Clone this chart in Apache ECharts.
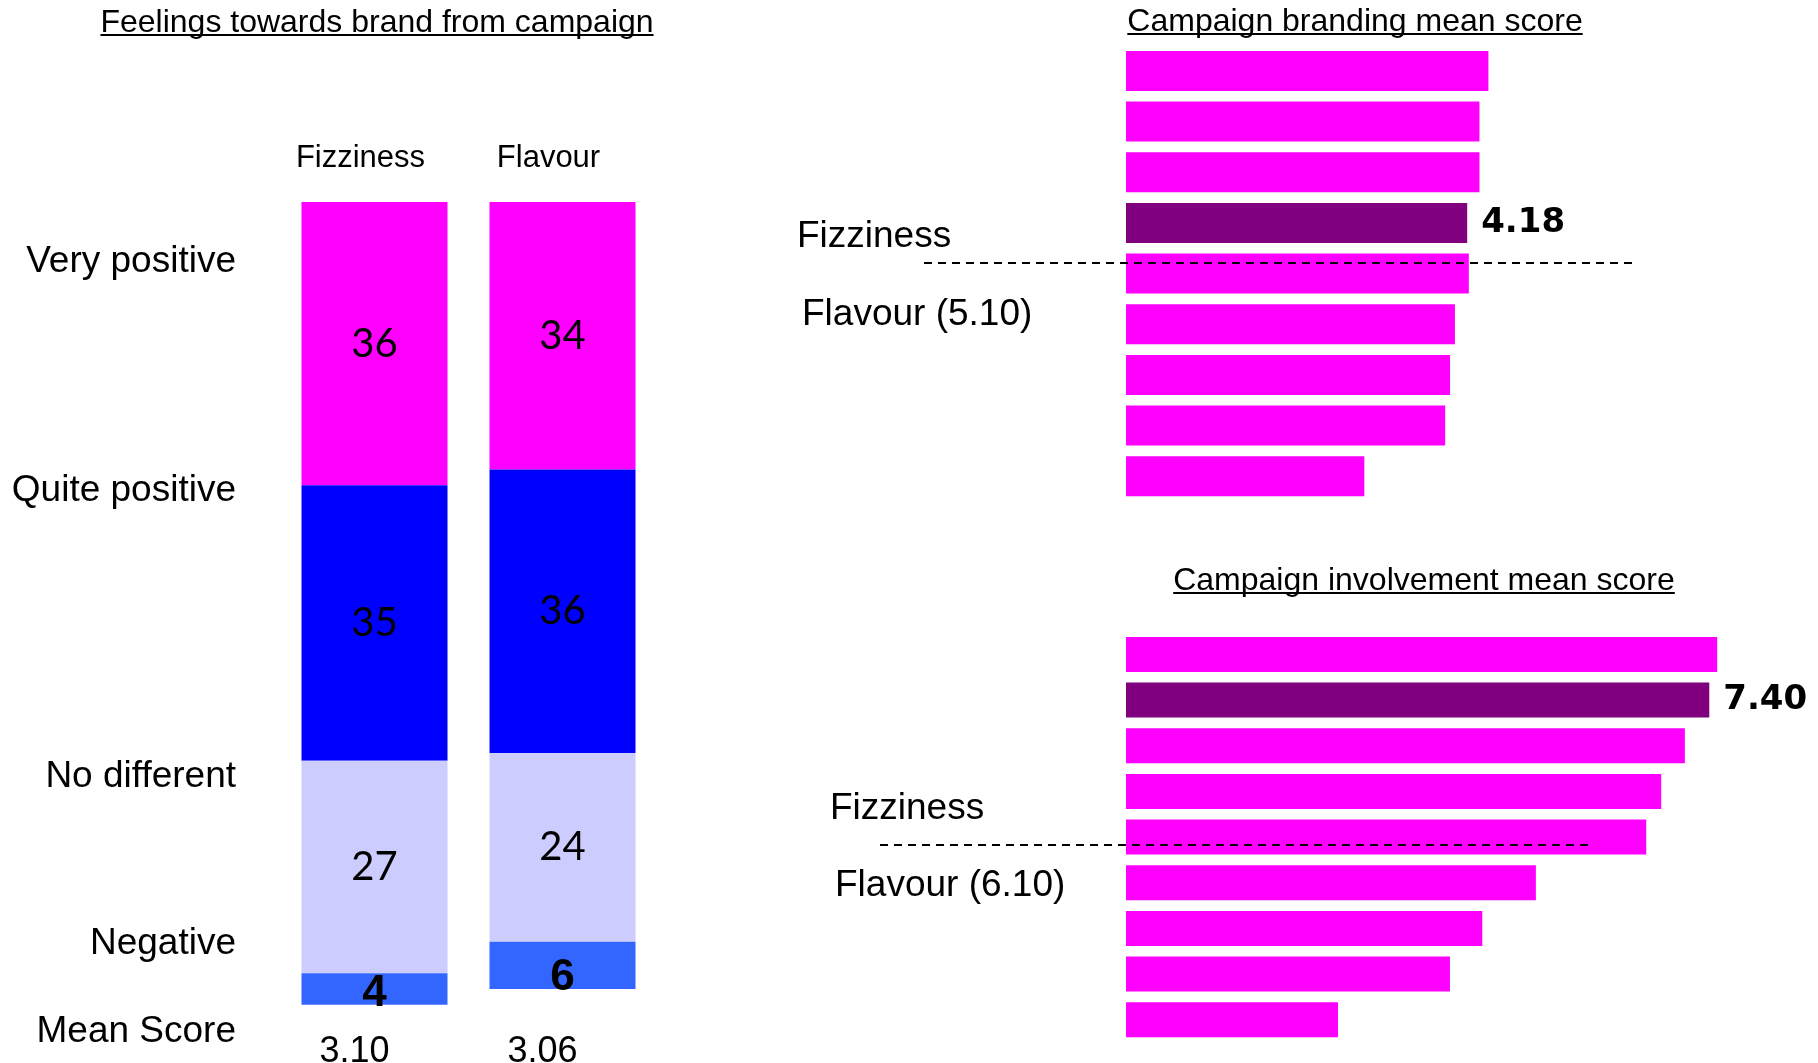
<!DOCTYPE html>
<html>
<head>
<meta charset="utf-8">
<title>Campaign scores</title>
<script src="https://cdn.jsdelivr.net/npm/echarts@6/dist/echarts.min.js"></script>
<style>
html, body { margin: 0; padding: 0; background: #fff; }
#main { width: 1818px; height: 1063px; }
</style>
</head>
<body>
<div id="main"></div>
<script>
// feelings towards brand from campaign (%)
const groups = ['Fizziness', 'Flavour']
const veryPositive = [36, 34]
const quitePositive = [35, 36]
const noDifferent = [27, 24]
const negative = [4, 6]
const meanScores = ['3.10', '3.06']
const feelingRows = ['Very positive', 'Quite positive', 'No different', 'Negative', 'Mean Score']

// campaign branding mean score (Fizziness highlighted)
const brandingScores = [4.44, 4.33, 4.33, 4.18, 4.20, 4.03, 3.97, 3.91, 2.92]
const brandingFizzIndex = 3
const brandingFlavour = '5.10'

// campaign involvement mean score
const involvementScores = [7.50, 7.40, 7.09, 6.79, 6.60, 5.20, 4.52, 4.11, 2.69]
const involvementFizzIndex = 1
const involvementFlavour = '6.10'

const ARIAL = '"Liberation Sans", Arial, sans-serif'
const VERDANA = '"DejaVu Sans", Verdana, sans-serif'
const GOTHIC = 'Lato, "Open Sans", sans-serif'

const MAGENTA = '#FF00FF'
const PURPLE = '#800080'

// width of a string, used for the underlines of the titles
function textWidth (str, size) {
  let ctx = document.createElement('canvas').getContext('2d')
  ctx.font = size + 'px ' + ARIAL
  return ctx.measureText(str).width
}

function label (str, x, y, size, align) {
  return {
    type: 'text',
    x: x,
    y: y,
    z: 100,
    style: {
      text: str,
      font: size + 'px ' + ARIAL,
      fill: '#000',
      align: align || 'left',
      verticalAlign: 'middle'
    }
  }
}

function title (str, cx, cy, lineY) {
  let w = textWidth(str, 32)
  return [
    label(str, cx, cy, 32, 'center'),
    {
      type: 'line',
      z: 100,
      shape: { x1: cx - w / 2, y1: lineY, x2: cx + w / 2, y2: lineY },
      style: { stroke: '#000', lineWidth: 2 }
    }
  ]
}

function dashed (x1, x2, y) {
  return {
    type: 'line',
    z: 100,
    shape: { x1: x1, y1: y, x2: x2, y2: y },
    style: { stroke: '#000', lineWidth: 2, lineDash: [8, 6] }
  }
}

// horizontal score bars, grid 1 = branding, grid 2 = involvement
function scoreBars (scores, fizzIndex, gridIndex, barWidth) {
  return {
    type: 'bar',
    xAxisIndex: gridIndex,
    yAxisIndex: gridIndex,
    barWidth: barWidth,
    data: scores.map((v, i) => {
      let item = { value: v, itemStyle: { color: i === fizzIndex ? PURPLE : MAGENTA } }
      if (i === fizzIndex) {
        item.label = {
          show: true,
          position: 'right',
          distance: 14,
          formatter: (p) => p.value.toFixed(2),
          fontFamily: VERDANA,
          fontWeight: 'bold',
          fontSize: 34,
          color: '#000'
        }
      }
      return item
    })
  }
}

let rowY = [262, 491, 777, 944, 1032]
let graphics = []
feelingRows.forEach((r, i) => graphics.push(label(r, 236, rowY[i], 37, 'right')))
graphics = graphics.concat(
  title('Feelings towards brand from campaign', 377, 23, 35),
  title('Campaign branding mean score', 1355, 22, 34),
  title('Campaign involvement mean score', 1424, 581, 593)
)
graphics.push(
  label('Fizziness', 797, 237, 37),
  label('Flavour (' + brandingFlavour + ')', 802, 315, 37),
  dashed(924, 1632, 263),
  label('Fizziness', 830, 809, 37),
  label('Flavour (' + involvementFlavour + ')', 835, 886, 37),
  dashed(880, 1588, 845)
)

let stackLabel = {
  show: true,
  position: 'inside',
  fontFamily: GOTHIC,
  fontSize: 40,
  color: '#000'
}

function stackSeries (name, color, data, lbl) {
  return {
    name: name,
    type: 'bar',
    stack: 'feel',
    xAxisIndex: 0,
    yAxisIndex: 0,
    barWidth: 146,
    clip: false,
    itemStyle: { color: color },
    label: lbl,
    data: data
  }
}

let option = {
  animation: false,
  backgroundColor: '#fff',
  grid: [
    { left: 280.5, top: 202, width: 376, height: 787, outerBoundsMode: 'none' },
    { left: 1126, top: 45.6, width: 653, height: 456, outerBoundsMode: 'none' },
    { left: 1126, top: 631.6, width: 670, height: 411, outerBoundsMode: 'none' }
  ],
  xAxis: [
    {
      gridIndex: 0,
      type: 'category',
      position: 'top',
      data: groups,
      axisLine: { show: false },
      axisTick: { show: false },
      axisLabel: {
        margin: 28,
        fontFamily: ARIAL,
        fontSize: 31,
        color: '#000',
        padding: [0, 28, 0, 0]
      }
    },
    { gridIndex: 1, type: 'value', min: 0, max: 8, show: false },
    { gridIndex: 2, type: 'value', min: 0, max: 8.5, show: false },
    {
      gridIndex: 0,
      type: 'category',
      position: 'bottom',
      data: groups,
      axisLine: { show: false },
      axisTick: { show: false },
      axisLabel: {
        margin: 45,
        fontFamily: ARIAL,
        fontSize: 36,
        color: '#000',
        padding: [0, 40, 0, 0],
        formatter: (v, i) => meanScores[i]
      }
    }
  ],
  yAxis: [
    { gridIndex: 0, type: 'value', inverse: true, min: 0, max: 100, show: false },
    { gridIndex: 1, type: 'category', inverse: true, data: brandingScores.map((v, i) => 'b' + i), show: false },
    { gridIndex: 2, type: 'category', inverse: true, data: involvementScores.map((v, i) => 'i' + i), show: false }
  ],
  series: [
    stackSeries('Very positive', MAGENTA, veryPositive, stackLabel),
    stackSeries('Quite positive', '#0000FF', quitePositive, stackLabel),
    stackSeries('No different', '#CCCCFF', noDifferent, stackLabel),
    stackSeries('Negative', '#3366FF', negative, {
      show: true,
      position: 'insideBottom',
      distance: -11,
      fontFamily: ARIAL,
      fontWeight: 'bold',
      fontSize: 44,
      color: '#000'
    }),
    scoreBars(brandingScores, brandingFizzIndex, 1, 40),
    scoreBars(involvementScores, involvementFizzIndex, 2, 35)
  ],
  graphic: graphics
}

let chart = echarts.init(document.getElementById('main'))
chart.setOption(option)
</script>
</body>
</html>
